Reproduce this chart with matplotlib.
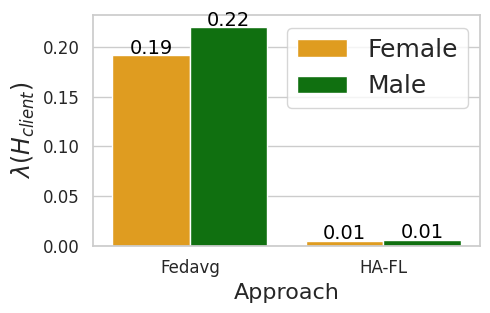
import matplotlib
matplotlib.use("Agg")
import matplotlib.pyplot as plt
import seaborn as sns
import pandas as pd

approaches = ["Fedavg", "HA-FL"]
female_vals = [0.192, 0.0055]
male_vals = [0.220, 0.0065]

sns.set_theme(style="whitegrid")

df = pd.DataFrame({
    "Approach": approaches * 2,
    "value": female_vals + male_vals,
    "Gender": ["Female"] * len(approaches) + ["Male"] * len(approaches),
})

fig, ax = plt.subplots(figsize=(4.9, 3.13), dpi=100)
sns.barplot(data=df, x="Approach", y="value", hue="Gender",
            palette=["orange", "green"], saturation=0.75, ax=ax)

for cont in ax.containers:
    ax.bar_label(cont, fmt="%.2f", fontsize=14, color="black", padding=-2)

ax.set_xlabel("Approach", fontsize=16)
ax.set_ylabel(r"$\lambda(H_{client})$", fontsize=17)
ax.tick_params(axis="x", labelsize=12)
ax.tick_params(axis="y", labelsize=12)
ax.set_ylim(0, 0.232)
ax.set_xlim(-0.5, 1.5)
ax.legend(fontsize=18, loc="upper right")

fig.subplots_adjust(left=0.19, right=0.98, top=0.952, bottom=0.214)
plt.savefig("out.png")
